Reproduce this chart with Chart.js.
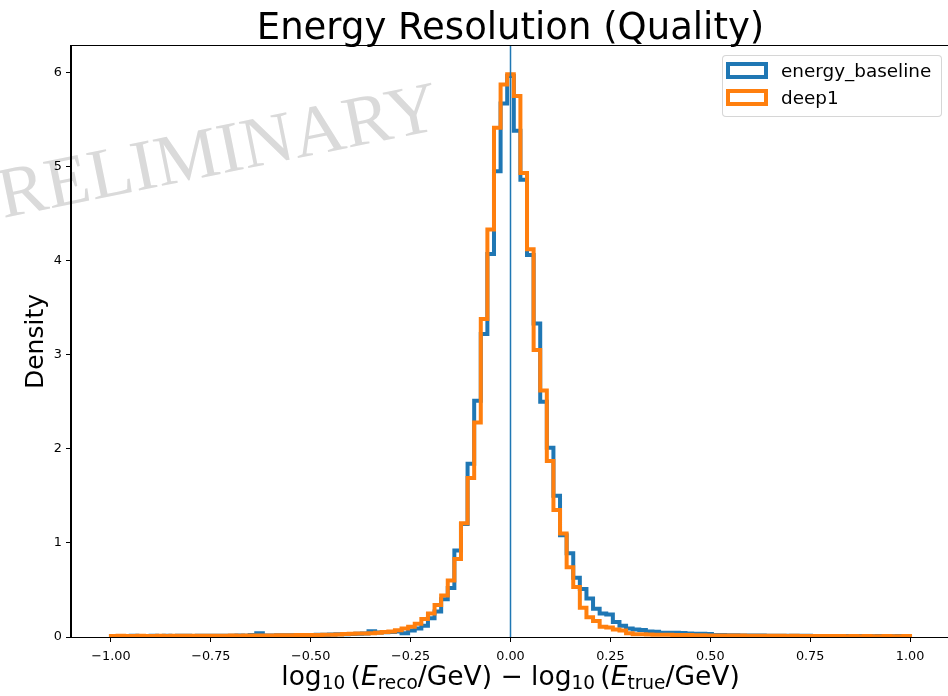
<!DOCTYPE html>
<html>
<head>
<meta charset="utf-8">
<script src="https://cdn.jsdelivr.net/npm/chart.js@4.4.0/dist/chart.umd.min.js"></script>
<style>
  html, body { margin: 0; padding: 0; width: 948px; height: 696px; overflow: hidden; background: #ffffff; }
  #wrap { position: relative; width: 948px; height: 696px; overflow: hidden; }
  #chart { position: absolute; left: 0; top: 0; }
  .txt { position: absolute; font-family: "DejaVu Sans", sans-serif; color: #000; white-space: nowrap; }
  #title { left: 0; width: 1021px; text-align: center; top: 8px; font-size: 37px; line-height: 37px; }
  #xlabel { left: 0; width: 1021px; text-align: center; top: 663px; font-size: 26.5px; line-height: 26.5px; }
  #xlabel sub { font-size: 0.7em; vertical-align: -0.22em; line-height: 0; }
  #xlabel i { font-style: italic; }
  #legend { position: absolute; left: 722px; top: 55px; width: 220px; height: 62px; box-sizing: border-box;
            border: 1px solid rgba(204,204,204,0.8); border-radius: 4px; background: rgba(255,255,255,0.8); }
  .lbox { position: absolute; box-sizing: border-box; width: 42px; height: 17px; border-style: solid; border-width: 4px; background: transparent; }
  .ltext { position: absolute; font-size: 18.4px; line-height: 18.4px; }
</style>
</head>
<body>
<div id="wrap">
  <canvas id="chart" width="952" height="696" style="width:952px;height:696px;"></canvas>
  <div id="title" class="txt">Energy Resolution (Quality)</div>
  <div id="xlabel" class="txt">log<sub>10</sub>&#8201;(<i>E</i><sub>reco</sub>/GeV) − log<sub>10</sub>&#8201;(<i>E</i><sub>true</sub>/GeV)</div>
  <div id="legend"></div>
</div>
<script>
// ---------------- data ----------------
const BIN_MIN = -1;
const BIN_MAX = 1;
const seriesLabels = ['energy_baseline', 'deep1'];
const seriesColors = ['#1f77b4', '#ff7f0e'];

// density per bin (121 equal bins from -1 to 1)
const energyBaseline = [
  0.010,0.011,0.010,0.012,0.011,0.010,0.012,0.011,0.012,0.011,0.013,0.012,0.011,0.013,0.012,0.013,0.014,0.013,0.014,0.015,0.014,
  0.020,0.040,0.016,0.017,0.018,0.018,0.019,0.020,0.021,0.022,0.023,0.024,0.026,0.028,
  0.030,0.032,0.034,0.036,0.060,0.048,0.050,0.054,0.058,0.040,0.070,0.090,0.120,0.200,0.270,0.400,0.520,0.920,1.200,1.840,2.510,3.220,4.070,4.950,5.670,
  5.960,
  5.380,4.860,4.060,3.330,2.500,2.010,1.500,1.080,0.890,0.630,0.510,0.410,0.300,0.250,0.240,0.160,0.120,0.090,0.080,0.075,
  0.058,0.055,0.046,0.045,0.044,0.043,0.036,0.035,0.034,0.033,0.022,0.020,0.019,0.018,0.017,0.016,0.015,0.015,0.014,0.014,
  0.013,0.013,0.012,0.012,0.012,0.011,0.011,0.011,0.010,0.011,0.010,0.010,0.011,0.010,0.009,0.010,0.010,0.009,0.010,0.009
];
const deep1 = [
  0.010,0.012,0.010,0.011,0.012,0.010,0.011,0.012,0.011,0.012,0.013,0.012,0.013,0.012,0.013,0.014,0.013,0.014,0.015,0.014,0.015,
  0.016,0.016,0.017,0.017,0.018,0.018,0.019,0.020,0.020,0.021,0.022,0.023,0.025,0.027,
  0.033,0.035,0.036,0.038,0.040,0.046,0.052,0.058,0.072,0.090,0.110,0.140,0.190,0.250,0.340,0.440,0.600,0.830,1.210,1.690,2.280,3.380,4.330,5.410,5.870,
  5.980,
  5.750,4.930,4.120,3.050,2.620,1.870,1.350,1.100,0.740,0.530,0.310,0.210,0.170,0.110,0.100,0.080,0.070,0.040,0.030,0.028,
  0.027,0.025,0.024,0.023,0.022,0.021,0.020,0.019,0.018,0.017,0.017,0.016,0.016,0.015,0.015,0.014,0.014,0.013,0.013,0.013,
  0.012,0.011,0.012,0.011,0.010,0.011,0.010,0.011,0.010,0.010,0.009,0.010,0.009,0.010,0.009,0.009,0.010,0.009,0.009,0.010
];

const xTicks = [-1.00, -0.75, -0.50, -0.25, 0.00, 0.25, 0.50, 0.75, 1.00];
const yTicks = [0, 1, 2, 3, 4, 5, 6];
const referenceLineX = [0];
const watermarkText = 'PRELIMINARY';

const X_MIN = -1.1, X_MAX = 1.1, Y_MIN = 0, Y_MAX = 6.28;

// ---------------- helpers ----------------
function stepPoints(vals) {
  const n = vals.length;
  const w = (BIN_MAX - BIN_MIN) / n;
  const pts = [{ x: BIN_MIN, y: 0 }];
  for (let i = 0; i < n; i++) pts.push({ x: BIN_MIN + i * w, y: vals[i] });
  pts.push({ x: BIN_MAX, y: 0 });
  return pts;
}
function fmtX(v) {
  const s = Math.abs(v).toFixed(2);
  return (v < -1e-9 ? '\u2212' : '') + s;
}

// legend (HTML)
(function buildLegend() {
  const lg = document.getElementById('legend');
  const rowTops = [6, 33];
  seriesLabels.forEach((lab, i) => {
    const b = document.createElement('div');
    b.className = 'lbox';
    b.style.left = '3px';
    b.style.top = (rowTops[i]) + 'px';
    b.style.borderColor = seriesColors[i];
    lg.appendChild(b);
    const t = document.createElement('div');
    t.className = 'txt ltext';
    t.style.left = '58px';
    t.style.top = (rowTops[i] - 0.5) + 'px';
    t.textContent = lab;
    lg.appendChild(t);
  });
})();

// ---------------- plugins ----------------
const watermark = {
  id: 'watermark',
  beforeDraw(chart) {
    const ctx = chart.ctx;
    ctx.save();
    ctx.translate(-36, 226);
    ctx.rotate(-11.5 * Math.PI / 180);
    ctx.font = '72px "Liberation Serif", "DejaVu Serif", serif';
    ctx.fillStyle = '#dadada';
    ctx.textBaseline = 'alphabetic';
    ctx.fillText(watermarkText, 0, 0);
    ctx.restore();
  }
};
const frame = {
  id: 'frame',
  afterDatasetsDraw(chart) {
    const { left, top, right, bottom } = chart.chartArea;
    const ctx = chart.ctx;
    ctx.save();
    ctx.strokeStyle = '#000';
    ctx.lineWidth = 1;
    ctx.strokeRect(Math.round(left) - 0.5, Math.round(top) - 0.5, Math.round(right - left) + 1, Math.round(bottom - top) + 1);
    ctx.restore();
  }
};

// ---------------- chart ----------------
new Chart(document.getElementById('chart'), {
  type: 'line',
  data: {
    datasets: [
      {
        label: 'x=0',
        data: [{ x: referenceLineX[0], y: Y_MIN }, { x: referenceLineX[0], y: Y_MAX }],
        borderColor: '#1f77b4', borderWidth: 1.5, pointRadius: 0, fill: false, order: 0, tension: 0
      },
      {
        label: seriesLabels[1],
        data: stepPoints(deep1),
        borderColor: seriesColors[1], borderWidth: 4, pointRadius: 0, fill: false,
        stepped: 'before', order: 1, borderJoinStyle: 'miter', borderCapStyle: 'butt'
      },
      {
        label: seriesLabels[0],
        data: stepPoints(energyBaseline),
        borderColor: seriesColors[0], borderWidth: 4, pointRadius: 0, fill: false,
        stepped: 'before', order: 2, borderJoinStyle: 'miter', borderCapStyle: 'butt'
      }
    ]
  },
  options: {
    responsive: false,
    animation: false,
    devicePixelRatio: 1,
    layout: { padding: { top: 46, right: 2, bottom: 0, left: 0 } },
    plugins: { legend: { display: false }, tooltip: { enabled: false }, title: { display: false } },
    scales: {
      x: {
        type: 'linear', min: X_MIN, max: X_MAX,
        afterBuildTicks: s => { s.ticks = xTicks.map(v => ({ value: v })); },
        afterFit: s => { s.height = 59; },
        ticks: {
          callback: v => fmtX(v), autoSkip: false, maxRotation: 0, minRotation: 0,
          font: { family: 'DejaVu Sans', size: 12.8 }, color: '#000', padding: 7
        },
        grid: { display: true, drawOnChartArea: false, drawTicks: true, tickLength: 5, tickColor: '#000', tickWidth: 1 },
        border: { display: true, color: '#000', width: 1 }
      },
      y: {
        type: 'linear', min: Y_MIN, max: Y_MAX,
        afterBuildTicks: s => { s.ticks = yTicks.map(v => ({ value: v })); },
        afterFit: s => { s.width = 71; },
        ticks: {
          callback: v => String(v), autoSkip: false,
          font: { family: 'DejaVu Sans', size: 12.8 }, color: '#000', padding: 4
        },
        grid: { display: true, drawOnChartArea: false, drawTicks: true, tickLength: 5, tickColor: '#000', tickWidth: 1 },
        border: { display: true, color: '#000', width: 1 },
        title: {
          display: true, text: 'Density', color: '#000',
          font: { family: 'DejaVu Sans', size: 25 }, padding: { top: 21, bottom: 0 }
        }
      }
    }
  },
  plugins: [watermark, frame]
});
</script>
</body>
</html>
